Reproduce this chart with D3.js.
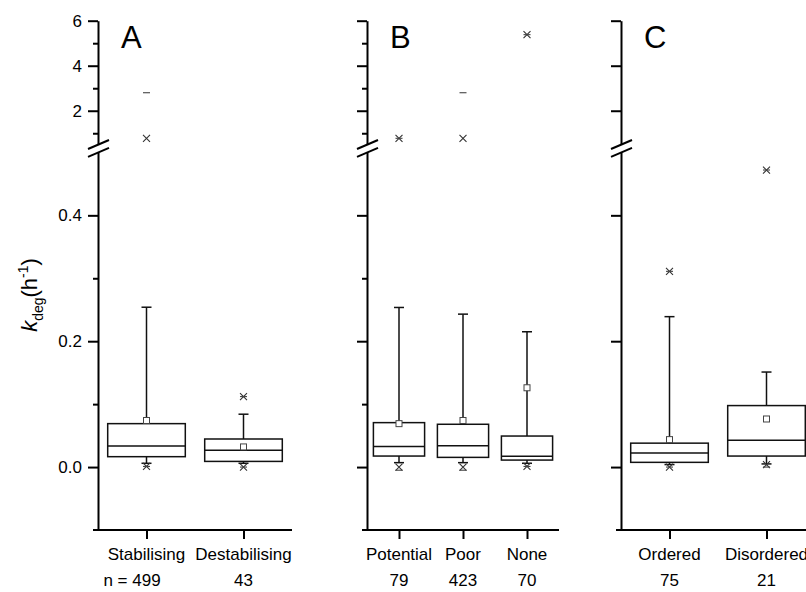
<!DOCTYPE html>
<html>
<head>
<meta charset="utf-8">
<script src="https://d3js.org/d3.v7.min.js"></script>
<style>
  body { margin:0; background:#fff; }
  svg text { font-family: "Liberation Sans", Arial, sans-serif; fill:#000; }
</style>
</head>
<body>
<script>
// panel data, values in h^-1
var panelNames = ["A", "B", "C"];
var categories = [["Stabilising", "Destabilising"], ["Potential", "Poor", "None"], ["Ordered", "Disordered"]];
var counts = [[499, 43], [79, 423, 70], [75, 21]];
var q1     = [[0.0165, 0.009], [0.0175, 0.0154, 0.0111], [0.0075, 0.0175]];
var median = [[0.0334, 0.0266], [0.0325, 0.034, 0.017], [0.0223, 0.0425]];
var q3     = [[0.069, 0.0446], [0.0706, 0.068, 0.0493], [0.038, 0.0977]];
var whiskerHi = [[0.254, 0.084], [0.2536, 0.243, 0.215], [0.239, 0.151]];
var whiskerLo = [[0.006, 0.006], [0.007, 0.007, 0.006], [0.004, 0.005]];
var means  = [[0.074, 0.032], [0.069, 0.074, 0.126], [0.0436, 0.0764]];
var p1     = [[0.001, 0.0], [0.0, 0.0, 0.001], [0.0, 0.004]];
var p99    = [[0.775, 0.112], [0.775, 0.775, 5.38], [0.311, 0.472]];
var minVal = [[0.001, 0.0], [-0.005, -0.005, 0.001], [0.0, 0.0]];
var maxVal = [[2.8, 0.112], [0.775, 2.8, 5.38], [0.311, 0.472]];

var upperTicks = [2, 4, 6], upperMinor = [1, 3, 5];
var lowerTicks = [0, 0.2, 0.4], lowerMinor = [0.1, 0.3];
var hasMinor = [true, true, false];

var W = 806, H = 592;
var svg = d3.select("body").append("svg").attr("width", W).attr("height", H);

// broken y axis: two linear pieces
var breakAt = 0.5;
var yHigh = d3.scaleLinear().domain([breakAt, 6]).range([144.5, 20.7]);
var yLow  = d3.scaleLinear().domain([-0.1, breakAt]).range([530, 152.4]);
function y(v) { return v > breakAt ? yHigh(v) : yLow(v); }

var axisX = [98, 367, 621];
var axisEnd = [292, 559, 815];
var xAxisY = 530;

panelNames.forEach(function(name, p) {
  var g = svg.append("g");
  var x0 = axisX[p];
  var x = d3.scalePoint().domain(categories[p]).range([x0, axisEnd[p]]).padding(0.5);
  var bw = x.step() * 0.8;

  // y axis, upper part
  g.append("g").attr("transform", "translate(" + x0 + ",0)")
    .call(d3.axisLeft(yHigh).tickValues(upperTicks).tickSize(10).tickSizeOuter(0).tickPadding(6)
      .tickFormat(p == 0 ? d3.format("d") : ""));
  g.append("g").attr("transform", "translate(" + x0 + ",0)")
    .call(d3.axisLeft(yLow).tickValues(lowerTicks).tickSize(10).tickSizeOuter(0).tickPadding(6)
      .tickFormat(p == 0 ? d3.format(".1f") : ""));
  if (hasMinor[p]) {
    g.append("g").attr("transform", "translate(" + x0 + ",0)")
      .call(d3.axisLeft(yHigh).tickValues(upperMinor).tickSize(5).tickFormat(""))
      .select(".domain").remove();
    g.append("g").attr("transform", "translate(" + x0 + ",0)")
      .call(d3.axisLeft(yLow).tickValues(lowerMinor).tickSize(5).tickFormat(""))
      .select(".domain").remove();
  }
  g.selectAll(".domain, .tick line").attr("stroke", "#000").attr("stroke-width", 2);
  g.selectAll(".tick text").style("font-size", "17px");

  // break marks
  [yHigh(breakAt), yLow(breakAt)].forEach(function(cy) {
    g.append("line")
      .attr("x1", x0 - 10).attr("y1", cy + 4.5)
      .attr("x2", x0 + 11).attr("y2", cy - 4.5)
      .attr("stroke", "#000").attr("stroke-width", 2);
  });

  // x axis
  g.append("line").attr("x1", x0 - 5).attr("x2", axisEnd[p])
    .attr("y1", xAxisY).attr("y2", xAxisY)
    .attr("stroke", "#000").attr("stroke-width", 2);
  var gx = g.append("g").attr("transform", "translate(0," + xAxisY + ")")
    .call(d3.axisBottom(x).tickSize(9).tickFormat(""));
  gx.select(".domain").remove();
  gx.selectAll(".tick line").attr("stroke", "#000").attr("stroke-width", 2);

  // panel letter
  g.append("text").attr("x", x0 + 23).attr("y", 47.5)
    .style("font-size", "31px").text(name);

  categories[p].forEach(function(c, i) {
    var cx = x(c);
    var bx = g.append("g");
    // whiskers
    bx.append("line").attr("x1", cx).attr("x2", cx)
      .attr("y1", y(q3[p][i])).attr("y2", y(whiskerHi[p][i]))
      .attr("stroke", "#111").attr("stroke-width", 1.5);
    bx.append("line").attr("x1", cx).attr("x2", cx)
      .attr("y1", y(q1[p][i])).attr("y2", y(whiskerLo[p][i]))
      .attr("stroke", "#111").attr("stroke-width", 1.5);
    [whiskerHi[p][i], whiskerLo[p][i]].forEach(function(v) {
      bx.append("line").attr("x1", cx - 5).attr("x2", cx + 5)
        .attr("y1", y(v)).attr("y2", y(v))
        .attr("stroke", "#111").attr("stroke-width", 1.5);
    });
    // box
    bx.append("rect").attr("x", cx - bw / 2).attr("width", bw)
      .attr("y", y(q3[p][i])).attr("height", y(q1[p][i]) - y(q3[p][i]))
      .attr("fill", "none").attr("stroke", "#111").attr("stroke-width", 1.5);
    bx.append("line").attr("x1", cx - bw / 2).attr("x2", cx + bw / 2)
      .attr("y1", y(median[p][i])).attr("y2", y(median[p][i]))
      .attr("stroke", "#111").attr("stroke-width", 1.5);
    // mean
    bx.append("rect").attr("x", cx - 3).attr("y", y(means[p][i]) - 3)
      .attr("width", 6).attr("height", 6)
      .attr("fill", "#fff").attr("stroke", "#444").attr("stroke-width", 1);
    // 1% and 99% crosses
    [p1[p][i], p99[p][i]].forEach(function(v) {
      var cy = y(v);
      bx.append("path")
        .attr("d", "M" + (cx - 3.5) + "," + (cy - 3.5) + "L" + (cx + 3.5) + "," + (cy + 3.5) +
                   "M" + (cx - 3.5) + "," + (cy + 3.5) + "L" + (cx + 3.5) + "," + (cy - 3.5))
        .attr("stroke", "#333").attr("stroke-width", 1.1).attr("fill", "none");
    });
    // min / max dashes
    [minVal[p][i], maxVal[p][i]].forEach(function(v) {
      bx.append("line").attr("x1", cx - 3.5).attr("x2", cx + 3.5)
        .attr("y1", y(v)).attr("y2", y(v))
        .attr("stroke", "#444").attr("stroke-width", 1.1);
    });

    // labels
    g.append("text").attr("x", cx).attr("y", 560)
      .attr("text-anchor", "middle").style("font-size", "17px").text(c);
    g.append("text").attr("x", cx).attr("y", 586)
      .attr("text-anchor", "middle").style("font-size", "17px").text(counts[p][i]);
    if (p == 0 && i == 0) {
      g.append("text").attr("x", cx - 19).attr("y", 586)
        .attr("text-anchor", "end").style("font-size", "17px").text("n =");
    }
  });
});

// y axis title
var yt = svg.append("text")
  .attr("transform", "translate(37,295) rotate(-90)")
  .attr("text-anchor", "middle").style("font-size", "22px");
yt.append("tspan").style("font-style", "italic").text("k");
yt.append("tspan").attr("dy", 6).style("font-size", "14px").text("deg");
yt.append("tspan").attr("dy", -6).text("(h");
yt.append("tspan").attr("dy", -9).style("font-size", "14px").text("-1");
yt.append("tspan").attr("dy", 9).text(")");
</script>
</body>
</html>
